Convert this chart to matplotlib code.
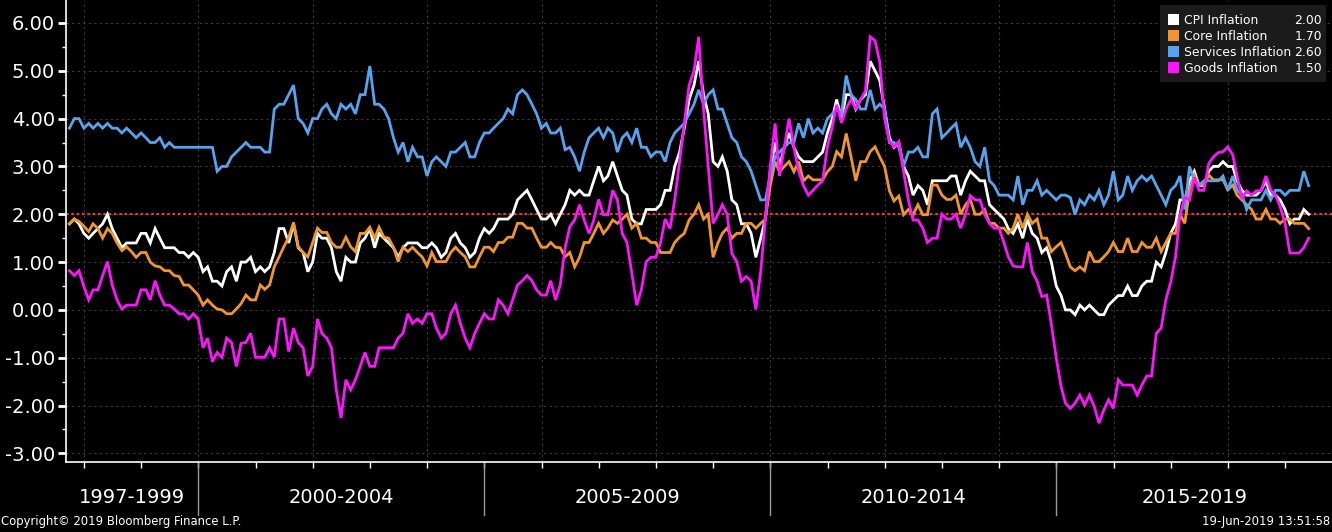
import matplotlib
matplotlib.use("Agg")
import matplotlib.pyplot as plt
import matplotlib.dates as mdates
import matplotlib.transforms as mtransforms
from matplotlib import font_manager
from matplotlib.patches import Rectangle
from matplotlib.ticker import MultipleLocator, FormatStrFormatter
import pandas as pd


# monthly year-on-year rates, Sep 1997 .. May 2019 (one row per calendar year)
cpi = [
    1.8, 1.9, 1.8, 1.6,
    1.5, 1.6, 1.7, 1.8, 2.0, 1.7, 1.5, 1.3, 1.4, 1.4, 1.4, 1.6,
    1.6, 1.4, 1.7, 1.5, 1.3, 1.3, 1.3, 1.2, 1.2, 1.1, 1.2, 1.1,
    0.8, 0.9, 0.6, 0.6, 0.5, 0.8, 0.9, 0.6, 1.0, 1.0, 1.1, 0.8,
    0.9, 0.8, 0.9, 1.2, 1.7, 1.7, 1.4, 1.8, 1.3, 1.2, 0.8, 1.0,
    1.6, 1.5, 1.5, 1.3, 0.8, 0.6, 1.1, 1.0, 1.0, 1.4, 1.5, 1.7,
    1.3, 1.6, 1.5, 1.4, 1.3, 1.1, 1.3, 1.4, 1.4, 1.4, 1.3, 1.3,
    1.4, 1.3, 1.1, 1.2, 1.5, 1.6, 1.4, 1.3, 1.1, 1.2, 1.5, 1.7,
    1.6, 1.7, 1.9, 1.9, 1.9, 2.0, 2.3, 2.4, 2.5, 2.3, 2.1, 1.9,
    1.9, 2.0, 1.8, 2.0, 2.2, 2.5, 2.4, 2.5, 2.4, 2.4, 2.7, 3.0,
    2.7, 2.8, 3.1, 2.8, 2.5, 2.4, 1.9, 1.8, 1.8, 2.1, 2.1, 2.1,
    2.2, 2.5, 2.5, 3.0, 3.3, 3.8, 4.4, 4.7, 5.2, 4.5, 4.1, 3.1,
    3.0, 3.2, 2.9, 2.3, 2.2, 1.8, 1.8, 1.6, 1.1, 1.5, 1.9, 2.9,
    3.5, 3.0, 3.4, 3.7, 3.4, 3.2, 3.1, 3.1, 3.1, 3.2, 3.3, 3.7,
    4.0, 4.4, 4.0, 4.5, 4.5, 4.2, 4.4, 4.5, 5.2, 5.0, 4.8, 4.2,
    3.6, 3.4, 3.5, 3.0, 2.8, 2.4, 2.6, 2.5, 2.2, 2.7, 2.7, 2.7,
    2.7, 2.8, 2.8, 2.4, 2.7, 2.9, 2.8, 2.7, 2.7, 2.2, 2.1, 2.0,
    1.9, 1.7, 1.6, 1.8, 1.5, 1.9, 1.6, 1.5, 1.2, 1.3, 1.0, 0.5,
    0.3, 0.0, 0.0, -0.1, 0.1, 0.0, 0.1, 0.0, -0.1, -0.1, 0.1, 0.2,
    0.3, 0.3, 0.5, 0.3, 0.3, 0.5, 0.6, 0.6, 1.0, 0.9, 1.2, 1.6,
    1.8, 2.3, 2.3, 2.7, 2.9, 2.6, 2.6, 2.9, 3.0, 3.0, 3.1, 3.0,
    3.0, 2.7, 2.5, 2.4, 2.4, 2.4, 2.5, 2.7, 2.4, 2.4, 2.3, 2.1,
    1.8, 1.9, 1.9, 2.1, 2.0,
]

core = [
    1.8, 1.9, 1.85, 1.75,
    1.64, 1.8, 1.7, 1.5, 1.7, 1.6, 1.4, 1.24, 1.32, 1.22, 1.1, 1.2,
    1.2, 1.0, 0.92, 0.9, 0.82, 0.82, 0.72, 0.7, 0.52, 0.52, 0.42, 0.31,
    0.1, 0.21, 0.1, 0.02, 0.0, -0.08, -0.08, 0.02, 0.13, 0.31, 0.21, 0.21,
    0.52, 0.43, 0.52, 0.9, 1.11, 1.32, 1.52, 1.83, 1.32, 1.2, 1.11, 1.41,
    1.71, 1.62, 1.62, 1.41, 1.31, 1.31, 1.52, 1.32, 1.22, 1.6, 1.6, 1.73,
    1.5, 1.73, 1.52, 1.5, 1.31, 1.01, 1.31, 1.22, 1.31, 1.2, 1.11, 0.92,
    1.2, 1.01, 1.01, 1.01, 1.2, 1.31, 1.2, 1.11, 0.9, 0.9, 1.11, 1.31,
    1.31, 1.22, 1.41, 1.41, 1.52, 1.52, 1.81, 1.81, 1.71, 1.71, 1.5, 1.31,
    1.31, 1.41, 1.31, 1.3, 1.11, 1.2, 0.9, 1.1, 1.41, 1.41, 1.6, 1.81,
    1.6, 1.71, 1.88, 1.81, 1.9, 2.0, 1.71, 1.81, 1.5, 1.5, 1.41, 1.41,
    1.2, 1.2, 1.2, 1.41, 1.52, 1.6, 1.88, 2.0, 2.2, 1.9, 2.0, 1.1,
    1.4, 1.6, 1.71, 1.5, 1.6, 1.6, 1.81, 1.81, 1.71, 1.81, 1.9, 2.6,
    3.1, 2.89, 3.0, 3.1, 2.89, 3.1, 2.7, 2.8, 2.72, 2.72, 2.72, 2.89,
    3.0, 3.31, 3.2, 3.69, 3.2, 2.7, 3.1, 3.1, 3.31, 3.41, 3.2, 3.0,
    2.49, 2.28, 2.38, 1.99, 2.1, 1.99, 2.2, 1.99, 1.99, 2.61, 2.61, 2.4,
    2.31, 2.31, 2.4, 2.0, 2.2, 2.31, 2.0, 2.0, 2.1, 1.81, 1.81, 1.71,
    1.71, 1.6, 1.71, 2.0, 1.71, 2.0, 1.81, 1.9, 1.5, 1.5, 1.22, 1.32,
    1.41, 1.18, 0.9, 0.82, 0.9, 0.82, 1.22, 1.01, 1.01, 1.11, 1.22, 1.41,
    1.22, 1.22, 1.5, 1.22, 1.22, 1.41, 1.31, 1.31, 1.5, 1.22, 1.41, 1.6,
    1.6, 2.0, 1.81, 2.5, 2.82, 2.61, 2.61, 2.82, 2.72, 2.72, 2.72, 2.51,
    2.61, 2.4, 2.3, 2.2, 2.1, 1.9, 1.9, 2.1, 1.9, 1.9, 1.81, 1.9,
    1.9, 1.81, 1.81, 1.81, 1.7,
]

services = [
    3.8, 4.0, 4.0, 3.8,
    3.9, 3.8, 3.9, 3.8, 3.9, 3.8, 3.8, 3.7, 3.8, 3.7, 3.6, 3.7,
    3.6, 3.5, 3.5, 3.6, 3.4, 3.5, 3.4, 3.4, 3.4, 3.4, 3.4, 3.4,
    3.4, 3.4, 3.4, 2.9, 3.0, 3.0, 3.2, 3.3, 3.4, 3.5, 3.4, 3.4,
    3.4, 3.3, 3.3, 4.2, 4.3, 4.3, 4.5, 4.7, 4.0, 3.9, 3.7, 4.0,
    4.0, 4.2, 4.3, 4.1, 4.0, 4.3, 4.2, 4.3, 4.1, 4.5, 4.5, 5.1,
    4.3, 4.3, 4.2, 4.0, 3.6, 3.3, 3.5, 3.1, 3.4, 3.2, 3.2, 2.8,
    3.1, 3.2, 3.1, 3.0, 3.3, 3.3, 3.4, 3.5, 3.2, 3.2, 3.5, 3.7,
    3.7, 3.8, 3.9, 4.0, 4.2, 4.1, 4.5, 4.6, 4.5, 4.3, 4.1, 3.8,
    3.9, 3.7, 3.7, 3.8, 3.35, 3.4, 3.2, 2.9, 3.3, 3.6, 3.7, 3.8,
    3.6, 3.8, 3.7, 3.3, 3.6, 3.7, 3.5, 3.8, 3.4, 3.4, 3.2, 3.3,
    3.3, 3.1, 3.5, 3.7, 3.8, 3.9, 4.1, 4.3, 4.6, 4.3, 4.5, 4.6,
    4.2, 4.2, 3.9, 3.6, 3.5, 3.2, 3.1, 2.9, 2.6, 2.3, 2.3, 2.8,
    3.2, 3.3, 3.4, 3.5, 3.5, 3.9, 3.6, 4.0, 3.7, 3.8, 3.7, 4.0,
    4.1, 4.2, 4.1, 4.9, 4.5, 4.4, 4.2, 4.2, 4.6, 4.2, 4.3, 4.2,
    3.5, 3.5, 3.4, 3.0, 3.3, 3.3, 3.4, 3.2, 3.2, 4.1, 4.2, 3.6,
    3.7, 3.8, 3.9, 3.4, 3.6, 3.4, 3.1, 3.0, 3.4, 2.7, 2.6, 2.4,
    2.4, 2.4, 2.3, 2.8, 2.2, 2.5, 2.5, 2.7, 2.4, 2.5, 2.4, 2.3,
    2.4, 2.4, 2.35, 2.0, 2.3, 2.2, 2.4, 2.3, 2.5, 2.2, 2.4, 2.9,
    2.3, 2.4, 2.8, 2.5, 2.7, 2.8, 2.7, 2.8, 2.6, 2.4, 2.2, 2.5,
    2.6, 2.8, 2.1, 3.0, 2.7, 2.6, 2.7, 2.7, 2.7, 2.7, 2.8, 2.5,
    2.8, 2.5, 2.4, 2.1, 2.3, 2.3, 2.3, 2.5, 2.3, 2.5, 2.5, 2.4,
    2.5, 2.5, 2.5, 2.9, 2.6,
]

goods = [
    0.82, 0.72, 0.82, 0.49,
    0.21, 0.42, 0.42, 0.72, 1.01, 0.52, 0.21, 0.02, 0.1, 0.1, 0.1, 0.42,
    0.42, 0.21, 0.61, 0.31, 0.1, 0.1, 0.02, -0.08, -0.08, -0.19, -0.08, -0.19,
    -0.79, -0.59, -1.08, -0.89, -0.99, -0.59, -0.68, -1.18, -0.7, -0.68, -0.49, -0.99,
    -0.99, -0.99, -0.79, -0.99, -0.19, -0.19, -0.87, -0.38, -0.68, -0.79, -1.38, -1.18,
    -0.19, -0.49, -0.59, -0.79, -1.67, -2.26, -1.46, -1.67, -1.46, -1.18, -0.89, -1.18,
    -1.18, -0.79, -0.79, -0.79, -0.79, -0.59, -0.49, -0.08, -0.28, -0.19, -0.28, -0.08,
    -0.08, -0.38, -0.59, -0.49, -0.08, 0.1, -0.28, -0.59, -0.79, -0.49, -0.28, -0.08,
    -0.19, -0.19, 0.21, 0.1, -0.08, 0.21, 0.52, 0.61, 0.72, 0.61, 0.42, 0.31,
    0.31, 0.61, 0.21, 0.52, 1.3, 1.74, 1.88, 2.2, 1.88, 1.6, 1.88, 2.31,
    1.99, 1.99, 2.5, 2.3, 1.6, 1.41, 0.77, 0.1, 0.42, 1.01, 1.1, 1.1,
    1.41, 1.9, 1.7, 2.3, 3.1, 3.9, 4.7, 5.0, 5.71, 4.2, 3.0, 1.81,
    2.0, 2.2, 2.0, 1.18, 1.01, 0.6, 0.7, 0.6, 0.01, 0.8, 1.9, 3.0,
    3.9, 2.8, 3.4, 4.0, 3.4, 2.9, 2.6, 2.4, 2.5, 2.61, 2.7, 3.41,
    3.83, 4.29, 3.91, 4.21, 4.4, 4.21, 4.4, 4.58, 5.71, 5.63, 5.19, 4.0,
    3.52, 3.41, 3.52, 2.9, 2.3, 1.88, 1.88, 1.71, 1.41, 1.5, 1.5, 2.0,
    1.9, 1.9, 2.0, 1.71, 2.0, 2.39, 2.3, 2.3, 2.0, 1.81, 1.71, 1.71,
    1.41, 1.11, 0.92, 0.9, 0.9, 1.41, 0.8, 0.6, 0.28, 0.31, -0.3, -1.0,
    -1.6, -1.95, -2.06, -1.95, -1.78, -1.99, -1.78, -2.02, -2.37, -2.09, -1.88, -2.06,
    -1.46, -1.57, -1.57, -1.57, -1.78, -1.57, -1.38, -1.38, -0.49, -0.38, 0.21, 0.58,
    1.11, 1.97, 2.35, 2.3, 2.77, 2.5, 2.5, 3.06, 3.2, 3.29, 3.31, 3.41,
    3.24, 2.8, 2.32, 2.49, 2.4, 2.49, 2.49, 2.8, 2.51, 2.4, 2.16, 1.81,
    1.19, 1.19, 1.19, 1.3, 1.5,
]

series_names = ["CPI Inflation", "Core Inflation", "Services Inflation", "Goods Inflation"]
series_colors = ["#ffffff", "#f0962c", "#56a3ee", "#ff14ff"]
period_labels = ["1997-1999", "2000-2004", "2005-2009", "2010-2014", "2015-2019"]
period_starts = ["1997-09-08", "2000-01-01", "2005-01-01", "2010-01-01", "2015-01-01"]
period_ends = ["2000-01-01", "2005-01-01", "2010-01-01", "2015-01-01", "2019-10-27"]
TARGET = 2.0

W, H = 1332, 532


def legend_font():
    names = {f.name for f in font_manager.fontManager.ttflist}
    if "Liberation Sans Narrow" in names:
        return "Liberation Sans Narrow", 10.7
    return "DejaVu Sans", 8.9


def main():
    dates = pd.date_range("1997-09-01", periods=len(cpi), freq="MS") + pd.offsets.MonthEnd(0)
    data = [cpi, core, services, goods]
    for s in data:
        assert len(s) == len(dates)

    plt.rcParams["font.family"] = "DejaVu Sans"
    fig = plt.figure(figsize=(W / 100, H / 100), dpi=100, facecolor="black")
    ax = fig.add_axes([66 / W, 70 / H, 1 - 66 / W, 462 / H])
    ax.set_facecolor("black")

    # draw order: services, core, cpi, goods on top
    for i in [2, 1, 0, 3]:
        ax.plot(dates, data[i], color=series_colors[i], linewidth=2.0,
                solid_joinstyle="miter", zorder=3 + i * 0.1)

    ax.axhline(TARGET, color="#e2453d", linewidth=1.6, linestyle=(0, (1.1, 1.3)), zorder=2)

    ax.set_xlim(pd.Timestamp("1997-09-08"), pd.Timestamp("2019-10-27"))
    ax.set_ylim(-3.18, 6.48)

    ax.yaxis.set_major_locator(MultipleLocator(1))
    ax.yaxis.set_minor_locator(MultipleLocator(0.5))
    ax.yaxis.set_major_formatter(FormatStrFormatter("%.2f"))
    ax.xaxis.set_major_locator(mdates.YearLocator(2))
    ax.xaxis.set_minor_locator(mdates.YearLocator(1))
    ax.xaxis.set_major_formatter(plt.NullFormatter())

    ax.tick_params(axis="y", which="major", colors="white", labelsize=14, length=6, width=2, pad=2)
    ax.tick_params(axis="y", which="minor", colors="white", length=3, width=1)
    ax.tick_params(axis="x", which="both", colors="white", length=4, width=1)

    ax.grid(which="major", color="#3c3c3c", linestyle=(0, (2, 3)), linewidth=0.8, zorder=1)

    for side in ["top", "right"]:
        ax.spines[side].set_visible(False)
    for side in ["left", "bottom"]:
        ax.spines[side].set_color("white")
        ax.spines[side].set_linewidth(1.2)

    # period labels and separators under the axis
    trans = mtransforms.blended_transform_factory(ax.transData, ax.transAxes)
    for label, start, end in zip(period_labels, period_starts, period_ends):
        s = mdates.date2num(pd.Timestamp(start))
        e = mdates.date2num(pd.Timestamp(end))
        ax.text((s + e) / 2, -0.076, label, transform=trans, ha="center", va="center",
                color="white", fontsize=14)
    for start in period_starts[1:]:
        x = mdates.date2num(pd.Timestamp(start))
        ax.plot([x, x], [0, -0.115], transform=trans, color="#9a9a9a", linewidth=1,
                clip_on=False)

    # legend box, top right
    fam, size = legend_font()
    fig.patches.append(Rectangle((1160 / W, 1 - 82 / H), 166 / W, 77 / H,
                                 transform=fig.transFigure, facecolor="#1b1b1b",
                                 edgecolor="none", zorder=10))
    for row, (name, color, s) in enumerate(zip(series_names, series_colors, data)):
        yc = 1 - (19.5 + 16 * row) / H
        fig.patches.append(Rectangle((1168 / W, yc - 5.5 / H), 11 / W, 11 / H,
                                     transform=fig.transFigure, facecolor=color,
                                     edgecolor="none", zorder=11))
        fig.text(1184 / W, yc, name, color="white", fontsize=size, family=fam,
                 ha="left", va="center_baseline", zorder=12)
        fig.text(1322 / W, yc, f"{s[-1]:.2f}", color="white", fontsize=size, family=fam,
                 ha="right", va="center_baseline", zorder=12)

    fig.text(1 / W, 1 - 522 / H, "Copyright\u00a9 2019 Bloomberg Finance L.P.", color="white",
             fontsize=8.4, ha="left", va="center")
    fig.text(1330 / W, 1 - 522 / H, "19-Jun-2019 13:51:58", color="white",
             fontsize=8.4, ha="right", va="center")

    fig.savefig("out.png", dpi=100, facecolor="black")
    plt.close(fig)


if __name__ == "__main__":
    main()
